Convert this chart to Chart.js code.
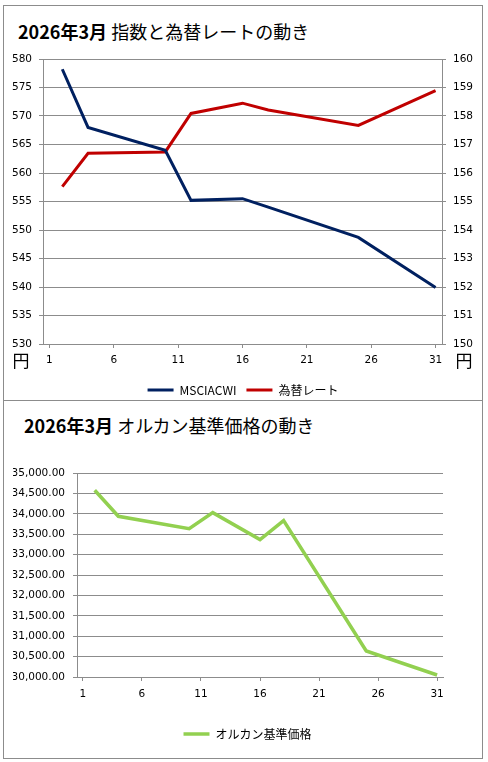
<!DOCTYPE html>
<html lang="ja">
<head>
<meta charset="utf-8">
<title>2026年3月 指数と為替レート / オルカン基準価格の動き</title>
<script src="https://cdn.jsdelivr.net/npm/chart.js@4.4.1/dist/chart.umd.min.js"></script>
<style>
  html, body { margin: 0; padding: 0; background: #fff; }
  body { width: 488px; height: 762px; position: relative; overflow: hidden; }
  .box { position: absolute; left: 3px; width: 478px; border: 1px solid #8c8c8c; background: #fff; }
  #box1 { top: 5px; height: 394px; }
  #box2 { top: 400px; height: 357px; }
  .title { position: absolute; font-family: "Noto Sans CJK JP", sans-serif; font-size: 18px; line-height: 24px; color: #000; white-space: nowrap; }
  .title b { font-weight: 700; }
  canvas { position: absolute; left: 0; top: 0; }
</style>
</head>
<body>
<div class="box" id="box1">
  <div class="title" style="left:14px; top:13px;"><b>2026年3月</b> 指数と為替レートの動き</div>
  <canvas id="indexChart" width="478" height="400"></canvas>
</div>
<div class="box" id="box2">
  <div class="title" style="left:20px; top:12px;"><b>2026年3月</b> オルカン基準価格の動き</div>
  <canvas id="fundChart" width="478" height="349"></canvas>
</div>
<script>
// days of March shown on the category axis
const days = ['1', '2', '3', '4', '5', '6', '7', '8', '9', '10',
  '11', '12', '13', '14', '15', '16', '17', '18', '19', '20',
  '21', '22', '23', '24', '25', '26', '27', '28', '29', '30', '31'];

// days that have a value
const pointDays = ['2', '4', '10', '12', '16', '18', '25', '31'];

const msciValues = [578.2, 568.0, 564.0, 555.2, 555.5, 554.0, 548.7, 539.9];
const fxValues = [155.52, 156.69, 156.74, 158.09, 158.45, 158.21, 157.67, 158.89];
const fundValues = [34576, 33939, 33637, 34029, 33367, 33833, 30637, 30049];

const msciLabel = 'MSCIACWI';
const fxLabel = '為替レート';
const fundLabel = 'オルカン基準価格';
const yAxisUnit = '円';

const gridColor = '#8c8c8c';
const tickFont = { family: '"DejaVu Sans", sans-serif', size: 10.5 };
const legendFont = { family: '"Noto Sans CJK JP", sans-serif', size: 12 };

function toPoints(values) {
  return pointDays.map((d, i) => ({ x: d, y: values[i] }));
}

// tick marks every 5 days, like the labels
const xTickColor = (ctx) => (ctx.index % 5 === 0 ? gridColor : 'rgba(0,0,0,0)');
const xLabel = (value, index) => (index % 5 === 0 ? days[index] : '');

const yenLabels = {
  id: 'yenLabels',
  afterDraw(chart) {
    const { ctx, chartArea } = chart;
    ctx.save();
    ctx.font = '17px "Noto Sans CJK JP"';
    ctx.fillStyle = '#000';
    ctx.textAlign = 'center';
    ctx.textBaseline = 'middle';
    const y = chartArea.bottom + 17;
    ctx.fillText(yAxisUnit, chart.scales.y.left + 17, y);
    ctx.fillText(yAxisUnit, chart.scales.y1.right - 18, y);
    ctx.restore();
  }
};

const legendOptions = {
  position: 'bottom',
  labels: {
    font: legendFont,
    color: '#000',
    usePointStyle: true,
    pointStyle: 'line',
    pointStyleWidth: 26,
    padding: 10
  }
};

new Chart(document.getElementById('indexChart'), {
  type: 'line',
  data: {
    labels: days,
    datasets: [
      {
        label: msciLabel,
        data: toPoints(msciValues),
        borderColor: '#002060',
        backgroundColor: '#002060',
        borderWidth: 3,
        pointRadius: 0,
        tension: 0,
        yAxisID: 'y'
      },
      {
        label: fxLabel,
        data: toPoints(fxValues),
        borderColor: '#c00000',
        backgroundColor: '#c00000',
        borderWidth: 3,
        pointRadius: 0,
        tension: 0,
        yAxisID: 'y1'
      }
    ]
  },
  options: {
    responsive: false,
    animation: false,
    layout: { padding: { top: 53, left: 0, right: 0, bottom: 0 } },
    plugins: {
      legend: legendOptions,
      tooltip: { enabled: false }
    },
    scales: {
      x: {
        type: 'category',
        offset: true,
        grid: { drawOnChartArea: false, tickLength: 4, color: xTickColor },
        border: { color: gridColor },
        ticks: { autoSkip: false, maxRotation: 0, padding: 6, font: tickFont, color: '#000', callback: xLabel },
        afterFit(scale) { scale.height = 30; }
      },
      y: {
        position: 'left',
        min: 530,
        max: 580,
        ticks: { stepSize: 5, padding: 7, font: tickFont, color: '#000' },
        grid: { color: gridColor, tickLength: 4 },
        border: { color: gridColor },
        afterFit(scale) { scale.width = 39; }
      },
      y1: {
        position: 'right',
        min: 150,
        max: 160,
        ticks: { stepSize: 1, padding: 7, font: tickFont, color: '#000' },
        grid: { drawOnChartArea: false, color: gridColor, tickLength: 4 },
        border: { color: gridColor },
        afterFit(scale) { scale.width = 40; }
      }
    }
  },
  plugins: [yenLabels]
});

new Chart(document.getElementById('fundChart'), {
  type: 'line',
  data: {
    labels: days,
    datasets: [
      {
        label: fundLabel,
        data: toPoints(fundValues),
        borderColor: '#92d050',
        backgroundColor: '#92d050',
        borderWidth: 3.5,
        pointRadius: 0,
        tension: 0
      }
    ]
  },
  options: {
    responsive: false,
    animation: false,
    layout: { padding: { top: 72, left: 9, right: 0, bottom: 0 } },
    plugins: {
      legend: legendOptions,
      tooltip: { enabled: false }
    },
    scales: {
      x: {
        type: 'category',
        offset: true,
        grid: { drawOnChartArea: false, tickLength: 4, color: xTickColor },
        border: { color: gridColor },
        ticks: { autoSkip: false, maxRotation: 0, padding: 7, font: tickFont, color: '#000', callback: xLabel },
        afterFit(scale) { scale.height = 41; }
      },
      y: {
        position: 'left',
        min: 30000,
        max: 35000,
        ticks: {
          stepSize: 500,
          padding: 8,
          font: tickFont,
          color: '#000',
          callback: (v) => v.toLocaleString('en-US', { minimumFractionDigits: 2, maximumFractionDigits: 2 })
        },
        grid: { color: gridColor, tickLength: 4 },
        border: { color: gridColor },
        afterFit(scale) { scale.width = 64; }
      },
      // empty right-hand space, as in the original plot area
      yPad: {
        position: 'right',
        display: true,
        ticks: { display: false },
        grid: { display: false },
        border: { display: false },
        afterFit(scale) { scale.width = 39; }
      }
    }
  }
});
</script>
</body>
</html>
